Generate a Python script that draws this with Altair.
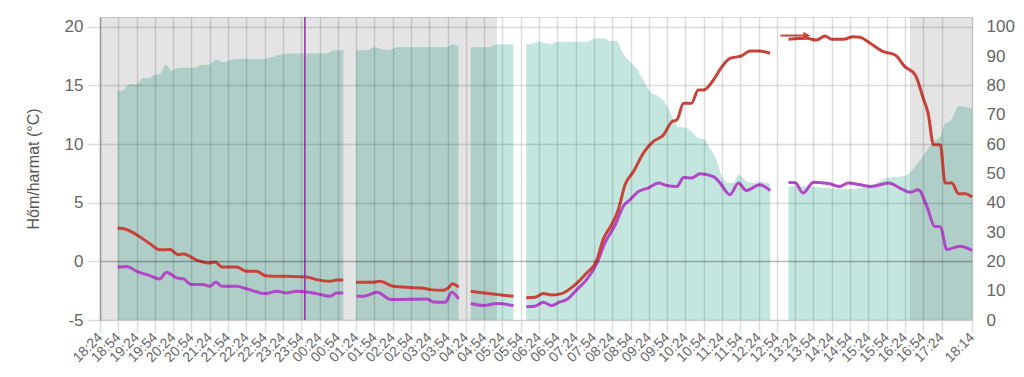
import altair as alt
import pandas as pd

# ---------------- data ----------------
tick_labels = ["18:24", "18:54", "19:24", "19:54", "20:24", "20:54", "21:24", "21:54",
               "22:24", "22:54", "23:24", "23:54", "00:24", "00:54", "01:24", "01:54",
               "02:24", "02:54", "03:24", "03:54", "04:24", "04:54", "05:24", "05:54",
               "06:24", "06:54", "07:24", "07:54", "08:24", "08:54", "09:24", "09:54",
               "10:24", "10:54", "11:24", "11:54", "12:24", "12:54", "13:24", "13:54",
               "14:24", "14:54", "15:24", "15:54", "16:24", "16:54", "17:24", "18:14"]

gap_resume = ["01:24", "04:32", "06:03", "13:13"]

temp_time = ["18:53", "19:05", "19:24", "19:46", "20:02", "20:19", "20:32", "20:41", "21:03", "21:22",
             "21:33", "21:44", "22:08", "22:25", "22:41", "22:55", "23:25", "00:03", "00:19", "00:41",
             "00:52", "01:03",
             "01:24", "01:52", "02:03", "02:25", "02:52", "03:12", "03:25", "03:47", "03:55", "04:02", "04:12",
             "04:32", "04:53", "05:15", "05:42",
             "06:03", "06:17", "06:31", "06:45", "07:01", "07:20", "07:42", "07:59", "08:09", "08:23",
             "08:34", "08:45", "08:59", "09:15", "09:31", "09:48", "10:02", "10:10", "10:21", "10:34",
             "10:45", "10:54", "11:10", "11:24", "11:37", "11:56", "12:10", "12:26", "12:43",
             "13:13", "13:43", "13:59", "14:13", "14:24", "14:43", "14:59", "15:10", "15:27", "15:49",
             "16:08", "16:24", "16:41", "16:54", "17:02", "17:11", "17:22", "17:30", "17:41", "17:52",
             "18:03", "18:14"]
temp_vals = [2.84, 2.76, 2.27, 1.5, 0.99, 1.0, 0.57, 0.63, 0.09, -0.14,
             -0.05, -0.48, -0.48, -0.85, -0.85, -1.22, -1.28, -1.33, -1.56, -1.70,
             -1.58, -1.58,
             -1.79, -1.79, -1.70, -2.13, -2.23, -2.27, -2.41, -2.47, -2.27, -1.92, -2.21,
             -2.55, -2.69, -2.83, -2.98,
             -3.1, -3.06, -2.75, -2.86, -2.75, -2.13, -0.99, 0.14, 1.85, 3.12,
             4.40, 6.53, 7.66, 9.23, 10.21, 10.78, 11.91, 12.06, 13.48, 13.48,
             14.61, 14.61, 15.46, 16.6, 17.31, 17.51, 17.93, 17.93, 17.74,
             18.93, 19.01, 18.87, 19.21, 18.93, 18.93, 19.15, 19.1, 18.59, 17.87,
             17.59, 16.6, 15.89, 13.91, 12.63, 9.93, 9.93, 6.67, 6.67, 5.76,
             5.76, 5.48]

dew_time = ["18:53", "19:08", "19:24", "19:46", "20:02", "20:13", "20:30", "20:41", "20:54", "21:13",
            "21:24", "21:34", "21:44", "22:08", "22:25", "22:55", "23:14", "23:30", "23:47", "00:19",
            "00:41", "00:52", "01:03",
            "01:25", "01:36", "01:58", "02:22", "03:20", "03:31", "03:50", "04:01", "04:12",
            "04:32", "04:53", "05:15", "05:42",
            "06:03", "06:17", "06:31", "06:45", "06:58", "07:09", "07:26", "07:42", "07:59", "08:12",
            "08:29", "08:42", "08:53", "09:07", "09:23", "09:40", "09:53", "10:10", "10:21", "10:34",
            "10:48", "11:10", "11:21", "11:37", "11:51", "12:04", "12:26", "12:43",
            "13:13", "13:24", "13:37", "13:54", "14:21", "14:37", "14:51", "15:10", "15:29", "15:57",
            "16:16", "16:32", "16:46", "17:00", "17:13", "17:22", "17:33", "17:54", "18:14"]
dew_vals = [-0.48, -0.43, -0.85, -1.22, -1.50, -0.94, -1.41, -1.50, -1.98, -1.98,
            -2.13, -1.76, -2.13, -2.13, -2.35, -2.75, -2.55, -2.69, -2.55, -2.75,
            -2.98, -2.69, -2.69,
            -2.98, -2.98, -2.64, -3.26, -3.20, -3.46, -3.49, -2.64, -3.20,
            -3.60, -3.77, -3.60, -3.77,
            -3.88, -3.83, -3.49, -3.77, -3.46, -3.26, -2.41, -1.56, -0.14, 1.57,
            3.12, 4.68, 5.25, 5.96, 6.25, 6.67, 6.47, 6.38, 7.15, 7.10,
            7.46, 7.23, 6.67, 5.68, 6.67, 6.04, 6.53, 6.04,
            6.72, 6.70, 5.82, 6.75, 6.61, 6.38, 6.67, 6.53, 6.38, 6.67,
            6.25, 5.89, 6.10, 4.68, 2.98, 2.95, 1.00, 1.28, 0.94]

hum_time = ["18:53", "19:00", "19:13", "19:24", "19:35", "19:43", "19:54", "20:02", "20:12", "20:22",
            "20:32", "21:00", "21:11", "21:22", "21:35", "21:46", "22:05", "22:52", "23:08", "23:22",
            "23:41", "00:36", "00:49", "01:03",
            "01:24", "01:41", "01:55", "02:06", "02:17", "02:31", "03:53", "04:02", "04:12",
            "04:32", "05:01", "05:15", "05:42",
            "06:03", "06:09", "06:23", "06:42", "06:53", "07:42", "07:56", "08:12", "08:20", "08:31",
            "08:42", "08:53", "09:04", "09:15", "09:26", "09:40", "09:51", "10:02", "10:12", "10:26",
            "10:37", "10:45", "10:54", "11:04", "11:15", "11:24", "11:34", "11:43", "11:51", "12:04",
            "12:15", "12:26", "12:37", "12:43",
            "13:13", "13:21", "13:48", "14:16", "14:43", "15:10", "15:38", "15:54", "16:16", "16:30",
            "16:43", "16:57", "17:11", "17:22", "17:30", "17:38", "17:43", "17:52", "18:05", "18:14"]
hum_vals = [78.2, 78.2, 80.4, 80.4, 82.6, 82.4, 83.6, 83.8, 87.0, 85.0,
            86.0, 86.0, 87.0, 87.0, 88.7, 87.9, 89.0, 89.0, 89.8, 90.6,
            90.9, 90.9, 92.0, 92.0,
            92.0, 92.0, 93.0, 92.3, 92.0, 93.0, 93.0, 94.0, 93.0,
            93.0, 93.0, 94.0, 94.0,
            94.1, 94.1, 94.9, 94.1, 94.9, 94.9, 96.0, 96.0, 95.1, 95.1,
            90.9, 88.1, 85.8, 81.9, 77.9, 76.2, 73.9, 69.4, 66.0, 65.4,
            63.7, 62.0, 61.7, 58.6, 54.6, 48.9, 46.7, 46.7, 49.5, 47.2,
            46.7, 47.2, 46.7, 46.5,
            45.5, 45.6, 45.5, 45.0, 44.6, 45.0, 46.7, 48.4, 48.9, 49.9,
            52.9, 56.9, 60.9, 62.6, 67.1, 67.7, 69.4, 73.0, 72.7, 72.2]

night_start = ["18:24", "16:32"]
night_end = ["05:15", "18:14"]
midnight = ["00:00"]
arrow_start = ["13:00"]
arrow_end = ["13:43"]
arrow_temp = [19.25]

temp_domain = [-5, 20.83]
hum_domain = [0, 103.32]

# ---------------- helpers ----------------
START = 18 * 60 + 24


def off(t):
    h, m = map(int, t.split(":"))
    v = h * 60 + m - START
    return v + 1440 if v < 0 else v


def seg(m):
    return sum(1 for g in gap_resume if m >= off(g))


rows = []
for t, v in zip(dew_time, dew_vals):
    rows.append({"m": off(t), "v": v, "s": "Harmatpont", "seg": seg(off(t))})
for t, v in zip(temp_time, temp_vals):
    rows.append({"m": off(t), "v": v, "s": "Hőmérséklet", "seg": seg(off(t))})
lines_df = pd.DataFrame(rows)

hum_df = pd.DataFrame({"m": [off(t) for t in hum_time], "h": hum_vals,
                       "seg": [seg(off(t)) for t in hum_time]})
night_df = pd.DataFrame({"a": [off(t) for t in night_start], "b": [off(t) for t in night_end]})
mid_df = pd.DataFrame({"a": [off(t) for t in midnight]})
arrow_df = pd.DataFrame({"a": [off(t) for t in arrow_start], "b": [off(t) for t in arrow_end],
                         "v": arrow_temp})

tick_vals = [off(t) for t in tick_labels]

FONT = "Liberation Sans"
GRID = "rgba(0,0,0,0.13)"

x_axis = alt.Axis(values=tick_vals, title=None, labelAngle=-45, labelAlign="right",
                  labelBaseline="middle", labelFontSize=14, labelColor="#666", labelPadding=2,
                  labelOverlap=False, labelBound=False, labelFlush=False,
                  labelExpr="timeFormat(datetime(2024, 0, 1, 18, 24 + datum.value), '%H:%M')",
                  tickSize=13, tickColor=GRID, tickWidth=1.5, grid=True, gridColor=GRID,
                  gridWidth=1.5, domainColor="#cccccc", zindex=1)
x_scale = alt.Scale(domain=[0, 1430], nice=False, zero=False)


def X(field="m"):
    return alt.X(f"{field}:Q", scale=x_scale, axis=x_axis)


area = alt.Chart(hum_df).mark_area(color="#c3e7df", interpolate="monotone").encode(
    x=X(),
    y=alt.Y("h:Q", stack=None, scale=alt.Scale(domain=hum_domain, nice=False, zero=True),
            axis=alt.Axis(orient="right", values=list(range(0, 101, 10)), title=None,
                          grid=False, tickSize=0, domain=False, labelPadding=14,
                          labelFontSize=17, labelColor="#666")),
    detail="seg:N",
)

night = alt.Chart(night_df).mark_rect(color="black", opacity=0.105).encode(
    x=X("a"), x2="b:Q"
)

lines = alt.Chart(lines_df).mark_line(strokeWidth=3, interpolate="monotone").encode(
    x=X(),
    y=alt.Y("v:Q", scale=alt.Scale(domain=temp_domain, nice=False, zero=False),
            axis=alt.Axis(orient="left", values=[-5, 0, 5, 10, 15, 20],
                          labelExpr="'' + datum.value",
                          title="Hőm/harmat (°C)", titleFontSize=16, titleFontWeight="normal",
                          titleColor="#555", titlePadding=23,
                          labelFontSize=17, labelColor="#666", labelPadding=4,
                          tickSize=13, tickColor=GRID, tickWidth=1.5,
                          grid=True, gridWidth=1.5,
                          gridColor={"condition": {"test": "datum.value === 0",
                                                   "value": "rgba(0,0,0,0.28)"},
                                     "value": GRID},
                          domainColor="#999999", domainWidth=1.5, zindex=1)),
    color=alt.Color("s:N", scale=alt.Scale(domain=["Hőmérséklet", "Harmatpont"],
                                           range=["#c9433a", "#b247c8"]), legend=None),
    detail="seg:N",
    order=alt.Order("m:Q"),
)

mid = alt.Chart(mid_df).mark_rule(color="#9c27b0", strokeWidth=1.5).encode(x=X("a"))

arrow_line = alt.Chart(arrow_df).mark_rule(color="#c9433a", strokeWidth=2).encode(
    x=X("a"), x2="b:Q",
    y=alt.Y("v:Q", scale=alt.Scale(domain=temp_domain, nice=False, zero=False), axis=None),
)
arrow_head = alt.Chart(arrow_df).mark_point(shape="triangle-right", filled=True,
                                            color="#c9433a", size=60, opacity=1).encode(
    x=X("b"),
    y=alt.Y("v:Q", scale=alt.Scale(domain=temp_domain, nice=False, zero=False), axis=None),
)

chart = alt.layer(area, night, lines, mid, arrow_line, arrow_head).resolve_scale(
    y="independent"
).properties(
    width=872, height=303,
    autosize=alt.AutoSizeParams(type="none"),
    padding={"left": 100, "top": 17, "right": 52, "bottom": 57},
).configure_view(stroke=None).configure(font=FONT)

chart.save("out.html", embed_options={"renderer": "svg", "actions": False})
